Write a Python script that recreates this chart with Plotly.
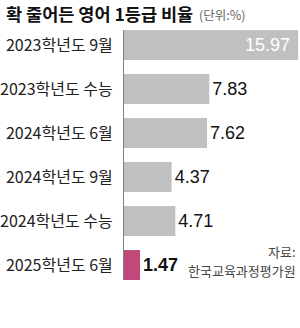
import plotly.graph_objects as go

categories = ["2023학년도 9월", "2023학년도 수능", "2024학년도 6월",
              "2024학년도 9월", "2024학년도 수능", "2025학년도 6월"]
values = [15.97, 7.83, 7.62, 4.37, 4.71, 1.47]
title_text = "확 줄어든 영어 1등급 비율"
unit_text = "(단위:%)"
source_text = ["자료:", "한국교육과정평가원"]

W, H = 300, 328
ML, MR, MT, MB = 118, 0, 30, 48
PW, PH = W - ML - MR, H - MT - MB

def px_x(x):
    return (x - ML) / PW

def px_y(y):
    return (H - MB - y) / PH

GRAY = "#c0c0c0"
PINK = "#c2477b"
colors = [GRAY] * (len(values) - 1) + [PINK]
positions = ["inside"] + ["outside"] * (len(values) - 1)
texts = []
for i, v in enumerate(values):
    s = f"{v:.2f}"
    if i == len(values) - 1:
        s = f"<b>{s}</b>"
    if i == 0:
        s = s + " "
    texts.append(s)
tcolors = ["white"] + ["#111111"] * (len(values) - 1)

VALFONT = "Liberation Sans, Arial, sans-serif"
KFONT = "Noto Sans CJK KR, sans-serif"

annotations = [
    dict(text=f"<b>{title_text}</b>", xref="paper", yref="paper",
         x=px_x(191), y=px_y(14), xanchor="right", yanchor="middle",
         showarrow=False, font=dict(family=KFONT, size=17.5, color="#111111")),
    dict(text=unit_text, xref="paper", yref="paper",
         x=px_x(194), y=px_y(15), xanchor="left", yanchor="middle",
         showarrow=False, font=dict(family=KFONT, size=12.5, color="#666666")),
    dict(text=source_text[0], xref="paper", yref="paper",
         x=px_x(298), y=px_y(251), xanchor="right", yanchor="middle",
         showarrow=False, font=dict(family=KFONT, size=13, color="#444444")),
    dict(text=source_text[1], xref="paper", yref="paper",
         x=px_x(298), y=px_y(270), xanchor="right", yanchor="middle",
         showarrow=False, font=dict(family=KFONT, size=13, color="#444444")),
]

fig = go.Figure(go.Bar(
    x=values, y=categories, orientation="h",
    marker=dict(color=colors, line=dict(width=0)),
    text=texts, textposition=positions,
    insidetextanchor="end",
    textfont=dict(family=VALFONT, size=18, color=tcolors),
    constraintext="none", cliponaxis=False,
))

fig.update_layout(
    width=W, height=H,
    margin=dict(l=ML, r=MR, t=MT, b=MB, pad=0),
    paper_bgcolor="white", plot_bgcolor="white",
    showlegend=False, bargap=0.32,
    xaxis=dict(range=[0, PW / 11.27], visible=False, fixedrange=True),
    yaxis=dict(
        categoryorder="array", categoryarray=categories,
        range=[len(values) - 1 + 0.34, -0.34],
        showline=True, linecolor="#808080", linewidth=1,
        showgrid=False, zeroline=False, ticks="",
        ticklabelstandoff=7,
        tickfont=dict(family=KFONT, size=16, color="#222222"),
    ),
    annotations=annotations,
)

fig.write_html("out.html")
